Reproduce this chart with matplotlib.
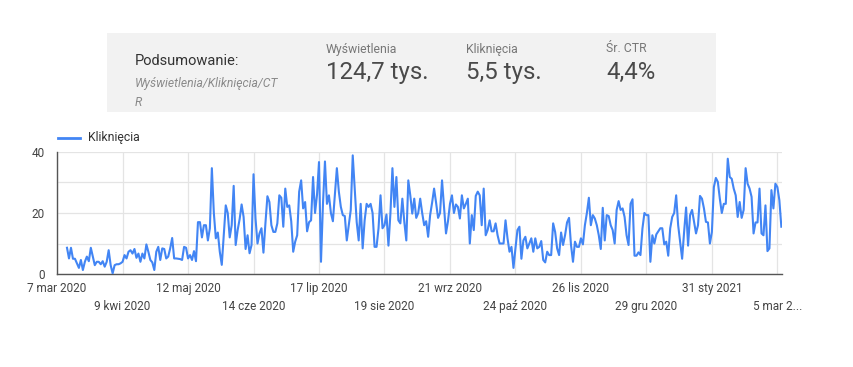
import matplotlib
matplotlib.use("Agg")
import matplotlib.pyplot as plt
import pandas as pd

plt.rcParams['font.family'] = ['Roboto', 'DejaVu Sans']

start_date = "2020-03-12"
clicks = [
    # mar - may 2020
    8.6, 5.1, 8.6, 5, 5, 3.5, 2, 4.6, 1.3, 4, 5.7, 4.2, 8.6, 5.7, 2.9, 4, 4, 3.2, 4.2, 2.4,
    4, 7.8, 2.9, 0.2, 2.9, 3.2, 3.2, 3.5, 4, 6.2, 5.1, 7.3, 7.8, 6.7, 8.2, 5.3, 6.7, 4, 6.7, 5.1,
    9.7, 7.3, 4.6, 3.8, 1.3, 7.3, 8.9, 4.6, 8.4, 8.2, 5.1, 5.7, 8.4, 11.8, 5.1, 5.1, 5, 4.9, 4.6, 8.9,
    8.6, 5.1, 6.2, 4.6, 7.5, 4.2,
    # may - jul 2020
    17, 17, 12, 16, 16, 11, 15, 34.7, 20, 11.7, 13.6, 7.3, 3, 12.7, 22.5, 20, 12, 16, 28.9, 9.5,
    14.4, 18, 22.8, 18.7, 8.2, 12.7, 6.8, 9.5, 32.7, 18.2, 10, 13.3, 15, 7, 16.6, 25.5, 23.6, 16, 13.8, 13.8,
    16.6, 25.8, 25, 15.5, 28, 22, 22.5, 17.3,
    # jul - sep 2020
    7.3, 10.6, 12.7, 27, 30.7, 21.5, 23.6, 14, 17, 17.6, 31.8, 20, 26, 36.7, 4, 23, 36.9, 23, 25.8, 20,
    17.3, 25.8, 34.7, 27, 22, 19.3, 19, 11, 16, 21, 38.9, 28, 17, 11, 23, 8.4, 17.6, 23, 22, 23,
    20, 8.9, 8.9, 15, 25.8, 15, 16, 19.5, 9.3, 20, 34.7, 22, 31.8, 17.6, 16.6, 24.7, 17, 11, 30.7, 25.8,
    # sep - nov 2020
    19.8, 24.7, 18.4, 20, 24.7, 20, 16, 17.3, 12.2, 19.3, 23.4, 28, 23.4, 18.4, 20, 30.7, 22, 13.3, 17.3, 23,
    25.8, 20, 22.8, 22, 18.2, 25.8, 21.5, 23, 24.7, 10, 19.3, 14.4, 25.6, 27, 25.8, 16, 28, 12.7, 14.4, 17.6,
    14, 14, 16.6, 12.7, 10, 10, 10, 17.6, 11.7, 7.3, 8.9, 2, 8.4, 14.4, 15.5, 5, 11, 12.2, 8.4,
    # nov 2020 - jan 2021
    10, 11.7, 7.3, 11.7, 8.4, 8.9, 10.8, 4.6, 3.8, 7.3, 6.2, 6.2, 16.6, 13.8, 8.4, 6.2, 13.6, 9.5, 12.7, 16.9,
    18.4, 9.5, 4, 10.6, 8.9, 8.9, 11.7, 9.7, 16, 20, 25, 16, 19.3, 18.2, 16, 12.7, 8.2, 21.7, 11, 19.3,
    19, 16, 14.4, 10, 21, 23.9, 21, 21.5, 18.7, 12.7, 9.5, 23, 24.5, 6, 6, 7.1, 6.2, 14.9, 20, 19.3, 19.3,
    # jan - mar 2021
    4, 12.7, 10, 13, 14, 15, 15, 9.7, 10.6, 6, 15, 18.7, 20, 25.8, 16, 10.6, 5, 13.8, 21.8, 9.3,
    19.3, 21, 17.1, 13.3, 16, 25.6, 24.7, 21.5, 17.1, 16.9, 10, 13.8, 28.5, 31.5, 30.2, 24.7, 20, 23, 23, 37.8,
    31.8, 31.2, 28, 25.8, 18.7, 23.6, 18.4, 21, 34.7, 29.6, 28, 25.3, 13.3, 16.9, 16.9, 28, 13.3, 12.7, 22.5, 7.5,
    8.4, 27.5, 21.5, 29.6, 28.5, 24.2, 15.5,
]
tick_dates = ["2020-03-07", "2020-04-09", "2020-05-12", "2020-06-14", "2020-07-17", "2020-08-19",
              "2020-09-21", "2020-10-24", "2020-11-26", "2020-12-29", "2021-01-31", "2021-03-05"]
tick_labels = ["7 mar 2020", "9 kwi 2020", "12 maj 2020", "14 cze 2020", "17 lip 2020", "19 sie 2020",
               "21 wrz 2020", "24 paź 2020", "26 lis 2020", "29 gru 2020", "31 sty 2021", "5 mar 2..."]
y_grid = [0, 10, 20, 30, 40]
y_labeled = [0, 20, 40]
series_name = "Kliknięcia"
summary_title = "Podsumowanie:"
summary_sub = ["Wyświetlenia/Kliknięcia/CT", "R"]
summary_labels = ["Wyświetlenia", "Kliknięcia", "Śr. CTR"]
summary_values = ["124,7 tys.", "5,5 tys.", "4,4%"]

W, H = 854, 367
fig = plt.figure(figsize=(W / 100, H / 100), dpi=100)
fig.patch.set_facecolor("white")

def fx(x):
    return x / W

def fy(y):
    return 1 - y / H

# summary box
box = plt.Rectangle((fx(107), fy(112)), fx(716) - fx(107), fy(33) - fy(112),
                    transform=fig.transFigure, facecolor="#f2f2f2", edgecolor="none", zorder=0)
fig.patches.append(box)
fig.text(fx(135), fy(61), summary_title, fontsize=10.5, color="#333333", va="center", ha="left")
fig.text(fx(135), fy(83), summary_sub[0], fontsize=8.7, color="#8a8a8a",
         style="italic", va="center", ha="left")
fig.text(fx(135), fy(102), summary_sub[1], fontsize=8.7, color="#8a8a8a", style="italic",
         va="center", ha="left")
for xpos, lab, val in zip([326, 466, 606], summary_labels, summary_values):
    fig.text(fx(xpos), fy(49), lab, fontsize=8.8, color="#777777", va="center", ha="left")
    fig.text(fx(xpos), fy(72), val, fontsize=17.3, color="#4a4a4a", va="center", ha="left")

# axes
ax = fig.add_axes([fx(57), fy(274), fx(782) - fx(57), fy(152) - fy(274)])
dates = pd.date_range(start_date, periods=len(clicks), freq="D")
line_color = "#4285F4"
ax.plot(dates, clicks, color=line_color, lw=1.5, solid_joinstyle="round", zorder=3)

ax.set_ylim(0, 40)
ax.set_xlim(pd.Timestamp("2020-03-07") - pd.Timedelta(hours=1),
            pd.Timestamp("2021-03-07") + pd.Timedelta(hours=8))
ax.set_yticks(y_grid)
ax.set_yticklabels([str(v) if v in y_labeled else "" for v in y_grid])
tick_ts = [pd.Timestamp(d) for d in tick_dates]
ax.set_xticks(tick_ts)
ax.set_xticklabels([lab if i % 2 == 0 else "\n" + lab for i, lab in enumerate(tick_labels)],
                   linespacing=1.5)
ax.tick_params(axis="both", length=0, labelsize=8.5, colors="#444444")
ax.tick_params(axis="x", pad=5.5)
ax.tick_params(axis="y", pad=9)
ax.grid(True, color="#e4e4e4", lw=0.9)
ax.set_axisbelow(True)
for s in ["top", "right"]:
    ax.spines[s].set_visible(False)
ax.spines["left"].set_color("#555555")
ax.spines["bottom"].set_color("#555555")
ax.spines["left"].set_linewidth(1.0)
ax.spines["bottom"].set_linewidth(1.0)

# legend
fig.lines.append(plt.Line2D([fx(58), fx(80)], [fy(138), fy(138)], transform=fig.transFigure,
                            color=line_color, lw=2))
fig.text(fx(88), fy(138), series_name, fontsize=8.8, color="#333333", va="center", ha="left")

fig.savefig("out.png", dpi=100)
